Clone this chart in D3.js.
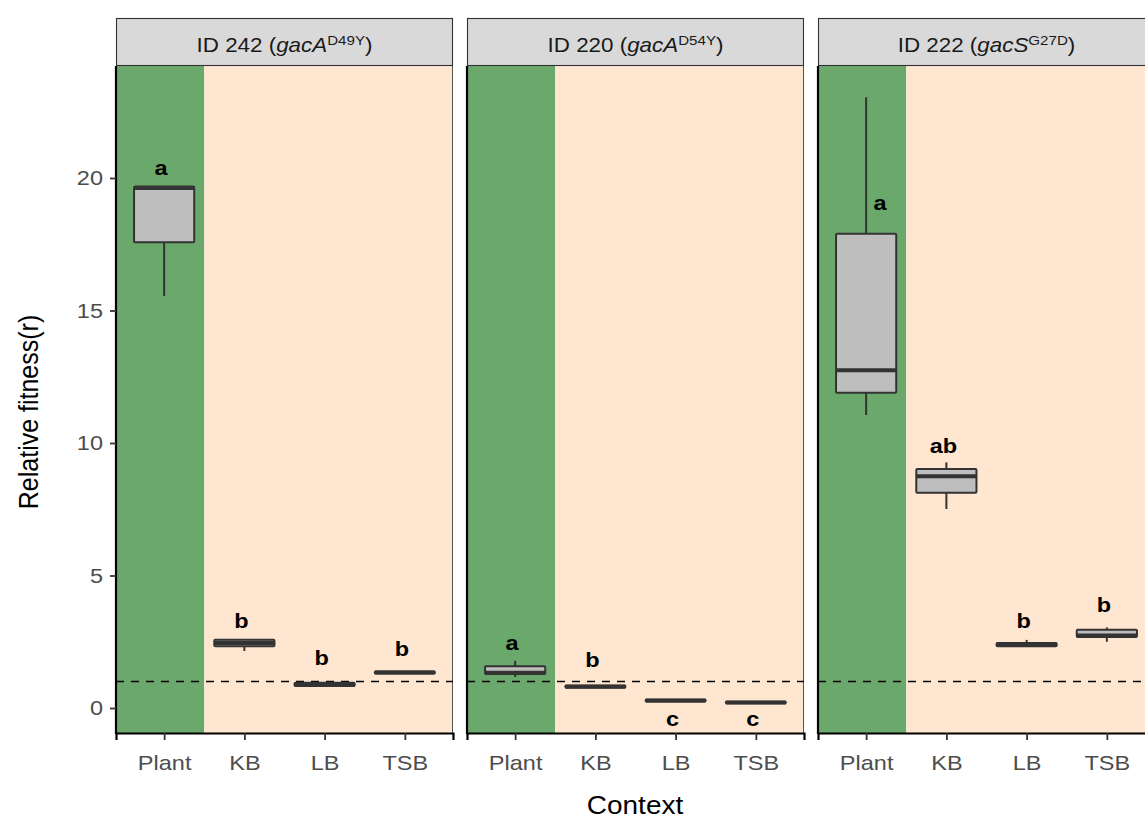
<!DOCTYPE html>
<html>
<head>
<meta charset="utf-8">
<script src="https://cdn.jsdelivr.net/npm/d3@7"></script>
<style>
  body { margin: 0; background: #fff; }
  text { font-family: "Liberation Sans", Arial, sans-serif; }
</style>
</head>
<body>
<div id="chart"></div>
<script>
// facet strips
const strainIds = ["242", "220", "222"];
const genes = ["gacA", "gacA", "gacS"];
const mutations = ["D49Y", "D54Y", "G27D"];

const contexts = ["Plant", "KB", "LB", "TSB"];
const yTicks = [0, 5, 10, 15, 20];

// box stats per strain: [lower whisker, q1, median, q3, upper whisker]
const boxes242 = [[15.55, 17.58, 19.62, 19.68, 19.68], [2.15, 2.33, 2.45, 2.58, 2.58], [0.83, 0.83, 0.87, 0.95, 0.95], [1.30, 1.30, 1.34, 1.38, 1.38]];
const boxes220 = [[1.17, 1.28, 1.33, 1.58, 1.78], [0.77, 0.77, 0.80, 0.85, 0.85], [0.25, 0.25, 0.28, 0.31, 0.31], [0.18, 0.18, 0.21, 0.24, 0.24]];
const boxes222 = [[11.06, 11.9, 12.75, 17.9, 23.05], [7.51, 8.12, 8.75, 9.02, 9.27], [2.33, 2.33, 2.40, 2.45, 2.57], [2.50, 2.68, 2.74, 2.95, 3.04]];

// significance letters and where they sit (y value)
const letters242 = ["a", "b", "b", "b"], letterY242 = [20.38, 3.32, 1.89, 2.23];
const letters220 = ["a", "b", "c", "c"], letterY220 = [2.49, 1.85, -0.38, -0.38];
const letters222 = ["a", "ab", "b", "b"], letterY222 = [19.06, 9.92, 3.32, 3.89];

const refLine = 1;

const allBoxes = [boxes242, boxes220, boxes222];
const allLetters = [letters242, letters220, letters222];
const allLetterY = [letterY242, letterY220, letterY222];

const W = 1145, H = 821;
const panelLeft = [116, 467, 818], panelW = 337;
const stripTop = 18, panelTop = 66, panelBottom = 733;
const sx = 1.12; // the text in the original is a bit wider than it is tall
const stretch = "scale(" + sx + ",1)";

const svg = d3.select("#chart").append("svg")
    .attr("width", W).attr("height", H);

const y = d3.scaleLinear().domain([0, 20]).range([708, 178]);

// text drawn at (x, y) but stretched horizontally around x
function wideText(sel, x, yy) {
    return sel.append("g").attr("transform", "translate(" + x + "," + yy + ") " + stretch)
        .append("text");
}

allBoxes.forEach((boxes, p) => {
    const x0 = panelLeft[p];
    const x = d3.scalePoint().domain(contexts).range([x0, x0 + panelW]).padding(0.6);
    const step = x.step();
    const g = svg.append("g");

    // background: plant context vs media
    const split = x("Plant") + step / 2;
    g.append("rect").attr("x", x0).attr("y", panelTop)
        .attr("width", split - x0).attr("height", panelBottom - panelTop)
        .attr("fill", "#6ba86b");
    g.append("rect").attr("x", split).attr("y", panelTop)
        .attr("width", x0 + panelW - split).attr("height", panelBottom - panelTop)
        .attr("fill", "#fee6d0");
    g.append("line").attr("x1", x0 + panelW - 0.5).attr("x2", x0 + panelW - 0.5)
        .attr("y1", panelTop).attr("y2", panelBottom)
        .attr("stroke", "#555").attr("stroke-width", 1);

    // strip
    g.append("rect").attr("x", x0 + 0.5).attr("y", stripTop + 0.5)
        .attr("width", panelW - 1).attr("height", panelTop - stripTop - 1)
        .attr("fill", "#d9d9d9").attr("stroke", "#333").attr("stroke-width", 1.1);
    const st = wideText(g, x0 + panelW / 2, 52)
        .attr("text-anchor", "middle").style("font-size", "20px").attr("fill", "#1a1a1a");
    st.append("tspan").text("ID " + strainIds[p] + " (");
    st.append("tspan").style("font-style", "italic").text(genes[p]);
    st.append("tspan").attr("dy", -7).style("font-size", "13.5px").text(mutations[p]);
    st.append("tspan").attr("dy", 7).text(")");

    // dashed reference line
    g.append("line").attr("x1", x0).attr("x2", x0 + panelW)
        .attr("y1", y(refLine)).attr("y2", y(refLine))
        .attr("stroke", "#000").attr("stroke-width", 1.6)
        .attr("stroke-dasharray", "8,7");

    // boxplots
    const bw = step * 0.75;
    boxes.forEach((b, i) => {
        const cx = x(contexts[i]);
        g.append("line").attr("x1", cx).attr("x2", cx)
            .attr("y1", y(b[0])).attr("y2", y(b[4]))
            .attr("stroke", "#333").attr("stroke-width", 2);
        g.append("rect").attr("x", cx - bw / 2).attr("y", y(b[3]))
            .attr("width", bw).attr("height", Math.max(y(b[1]) - y(b[3]), 0.5))
            .attr("fill", "#bebebe").attr("stroke", "#333").attr("stroke-width", 2)
            .attr("rx", 1);
        g.append("line").attr("x1", cx - bw / 2).attr("x2", cx + bw / 2)
            .attr("y1", y(b[2])).attr("y2", y(b[2]))
            .attr("stroke", "#333").attr("stroke-width", 4);
    });

    // letters
    allLetters[p].forEach((l, i) => {
        // the tall whisker in 222 Plant pushes its letter to the side
        const shift = (p === 2 && i === 0) ? 14 : -3;
        wideText(g, x(contexts[i]) + shift, y(allLetterY[p][i]))
            .attr("dy", "0.36em").attr("text-anchor", "middle")
            .style("font-size", "21px").style("font-weight", "bold")
            .text(l);
    });

    // axes
    const xAxis = g.append("g").attr("transform", "translate(0," + panelBottom + ")")
        .call(d3.axisBottom(x).tickSizeOuter(0).tickSize(7).tickPadding(15));
    xAxis.select(".domain").attr("stroke", "#000").attr("stroke-width", 2.2);
    xAxis.selectAll(".tick line").attr("stroke", "#333").attr("stroke-width", 1.8);
    xAxis.selectAll(".tick text").attr("fill", "#4d4d4d").style("font-size", "21px")
        .attr("font-family", "Liberation Sans, Arial, sans-serif")
        .attr("transform", stretch);

    g.append("line").attr("x1", x0).attr("x2", x0)
        .attr("y1", panelTop).attr("y2", panelBottom + 1.1)
        .attr("stroke", "#000").attr("stroke-width", 2.2);

    if (p === 0) {
        const yAxis = g.append("g").attr("transform", "translate(" + x0 + ",0)")
            .call(d3.axisLeft(y).tickValues(yTicks).tickSize(6).tickPadding(5.6));
        yAxis.select(".domain").remove();
        yAxis.selectAll(".tick line").attr("stroke", "#333").attr("stroke-width", 1.8);
        yAxis.selectAll(".tick text").attr("fill", "#4d4d4d").style("font-size", "21px")
            .attr("font-family", "Liberation Sans, Arial, sans-serif")
            .attr("transform", stretch);
    }
});

// axis titles
wideText(svg, 635, 814).attr("text-anchor", "middle")
    .style("font-size", "25px").text("Context");
svg.append("g").attr("transform", "translate(38,412) rotate(-90) scale(1,1.12)")
    .append("text").attr("text-anchor", "middle")
    .style("font-size", "25px").text("Relative fitness(r)");
</script>
</body>
</html>
